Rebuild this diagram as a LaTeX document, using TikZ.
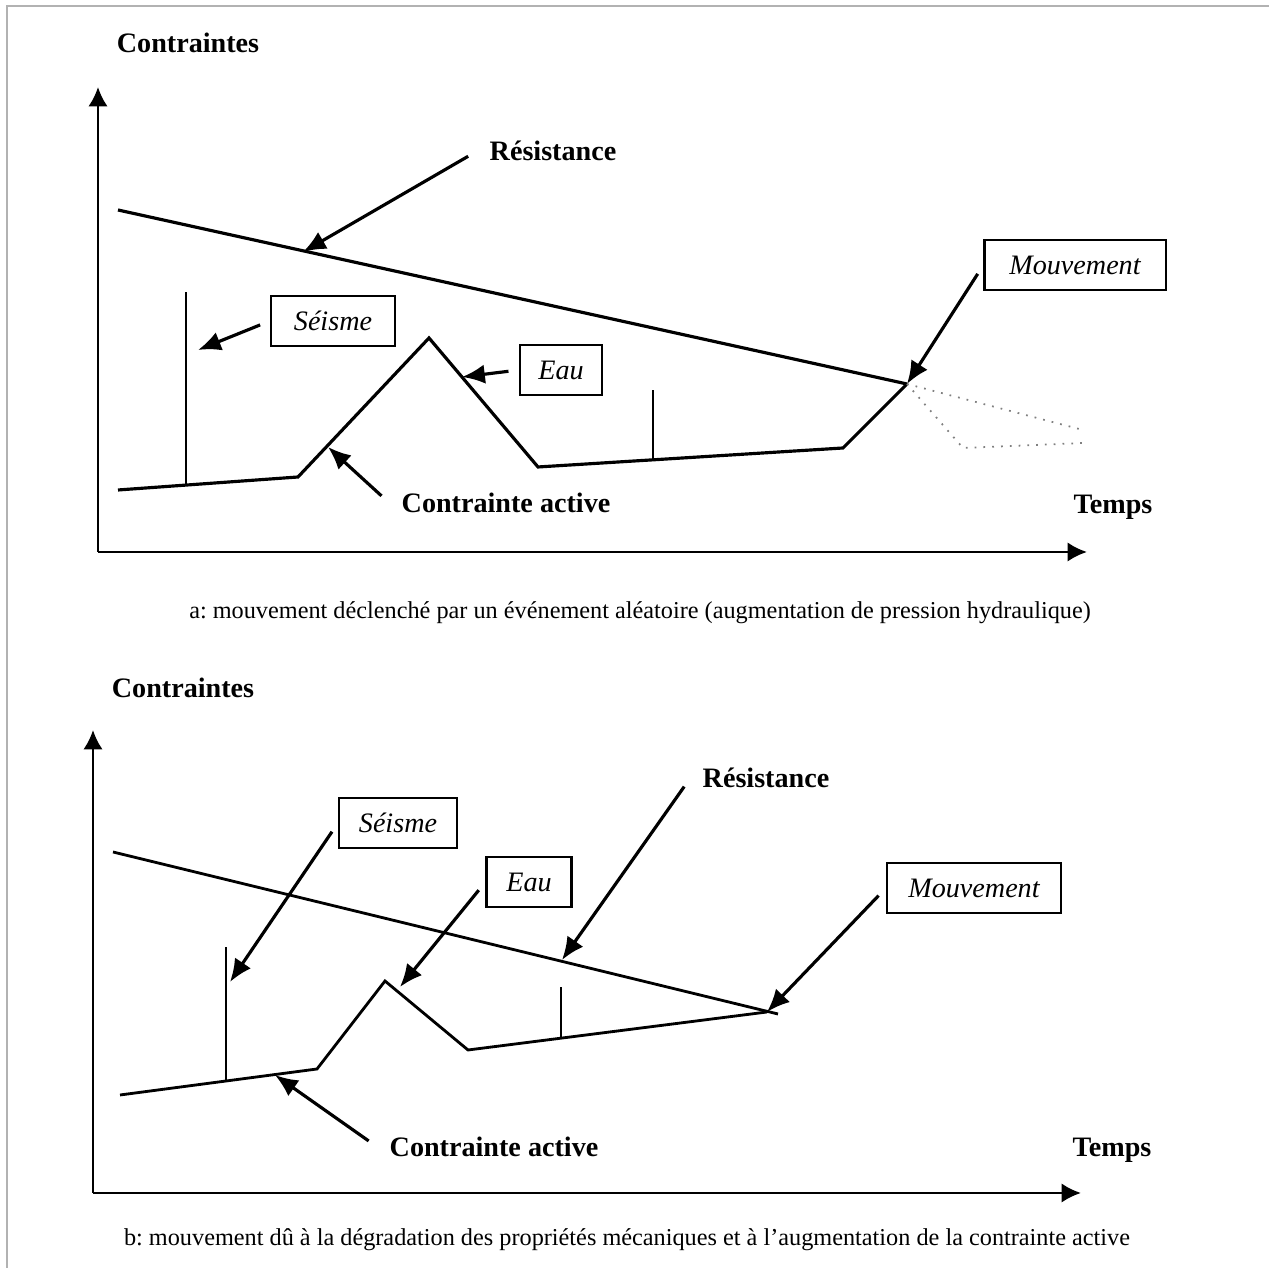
\documentclass[tikz,border=0pt]{standalone}
\usepackage{fontspec}
\setmainfont{Liberation Serif}
\usetikzlibrary{arrows.meta}
\frenchspacing

\begin{document}
\begin{tikzpicture}[x=0.01cm, y=-0.01cm]
	\tikzset{lbl/.style={font=\fontsize{8}{9}\selectfont\bfseries}}
	\tikzset{legend/.style={font=\fontsize{6.9}{8}\selectfont}}
	\tikzset{box/.style={draw, line width=0.6pt, minimum height=0.5cm, inner sep=0pt,
			font=\fontsize{8}{9}\selectfont\itshape}}
	\tikzset{pointer/.style={-{Latex[length=6.5pt, width=5.5pt]}, line width=0.9pt, shorten <=3pt}}
	\tikzset{axis/.style={-{Latex[length=5.5pt, width=5.5pt]}, line width=0.8pt}}
	\tikzset{curve/.style={line width=0.9pt, line join=miter}}
	\tikzset{shock/.style={line width=0.6pt}}
	\tikzset{trend/.style={dotted, gray, line width=0.5pt}}
	\useasboundingbox (0,0) rectangle (1269,1268);
	%frame
	\draw[gray!60, line width=0.5pt] (7,1268) -- (7,6) -- (1269,6);

	%a: axes
	\coordinate (o1) at (98,552);
	\coordinate (y1) at (98,87);
	\coordinate (x1) at (1087,552);
	\draw[axis] (o1) -- (y1);
	\draw[axis] (o1) -- (x1);
	%a: labels
	\node[lbl] (c1) at (188,43) {Contraintes};
	\node[lbl] (t1) at (1113,507) {Temps};
	\node[lbl] (r1) at (553,151) {Résistance};
	\node[lbl] (a1) at (506,503) {Contrainte active};
	\node[box, minimum width=1.24cm] (s1) at (333,321) {Séisme};
	\node[box, minimum width=0.82cm] (e1) at (561,370) {Eau};
	\node[box, minimum width=1.81cm] (m1) at (1075,265) {Mouvement};
	\node[legend] (l1) at (640,613) {a: mouvement déclenché par un événement aléatoire (augmentation de pression hydraulique)};
	%a: curves
	\coordinate (rup1) at (907,384);
	\draw[curve] (118,210) -- (rup1);
	\draw[curve] (118,490) -- (298,477) -- (429,338) -- (538,467) -- (843,448) -- (rup1);
	\draw[shock] (186,484) -- (186,292);
	\draw[shock] (653,460) -- (653,390);
	\draw[trend] (rup1) -- (1083,430);
	\draw[trend] (rup1) -- (963,448) -- (1083,443);
	%a: arrows
	\coordinate (rr1) at (303,252);
	\coordinate (ss1) at (198,350);
	\coordinate (ee1) at (462,377);
	\coordinate (aa1) at (328,447);
	\draw[pointer] (r1.west) -- (rr1);
	\draw[pointer] (s1.west) -- (ss1);
	\draw[pointer] (e1.west) -- (ee1);
	\draw[pointer] (a1.west) -- (aa1);
	\draw[pointer] (m1.west) -- (rup1);

	%b: axes
	\coordinate (o2) at (93,1193);
	\coordinate (y2) at (93,730);
	\coordinate (x2) at (1081,1193);
	\draw[axis] (o2) -- (y2);
	\draw[axis] (o2) -- (x2);
	%b: labels
	\node[lbl] (c2) at (183,688) {Contraintes};
	\node[lbl] (t2) at (1112,1150) {Temps};
	\node[lbl] (r2) at (766,778) {Résistance};
	\node[lbl] (a2) at (494,1147) {Contrainte active};
	\node[box, minimum width=1.18cm] (s2) at (398,823) {Séisme};
	\node[box, minimum width=0.85cm] (e2) at (529,882) {Eau};
	\node[box, minimum width=1.74cm] (m2) at (974,888) {Mouvement};
	\node[legend] (l2) at (627,1240) {b: mouvement dû à la dégradation des propriétés mécaniques et à l’augmentation de la contrainte active};
	%b: curves
	\coordinate (rup2) at (767,1012);
	\draw[curve, line width=0.8pt] (113,852) -- (778,1014);
	\draw[curve, line width=0.8pt] (120,1095) -- (317,1069) -- (385,981) -- (468,1050) -- (rup2);
	\draw[shock] (226,1080) -- (226,947);
	\draw[shock] (561,1038) -- (561,987);
	%b: arrows
	\coordinate (rr2) at (562,960);
	\coordinate (ss2) at (230,982);
	\coordinate (ee2) at (400,987);
	\coordinate (aa2) at (275,1075);
	\draw[pointer] (r2.west) -- (rr2);
	\draw[pointer] (s2.west) -- (ss2);
	\draw[pointer] (e2.west) -- (ee2);
	\draw[pointer] (a2.west) -- (aa2);
	\draw[pointer] (m2.west) -- (rup2);
\end{tikzpicture}
\end{document}
